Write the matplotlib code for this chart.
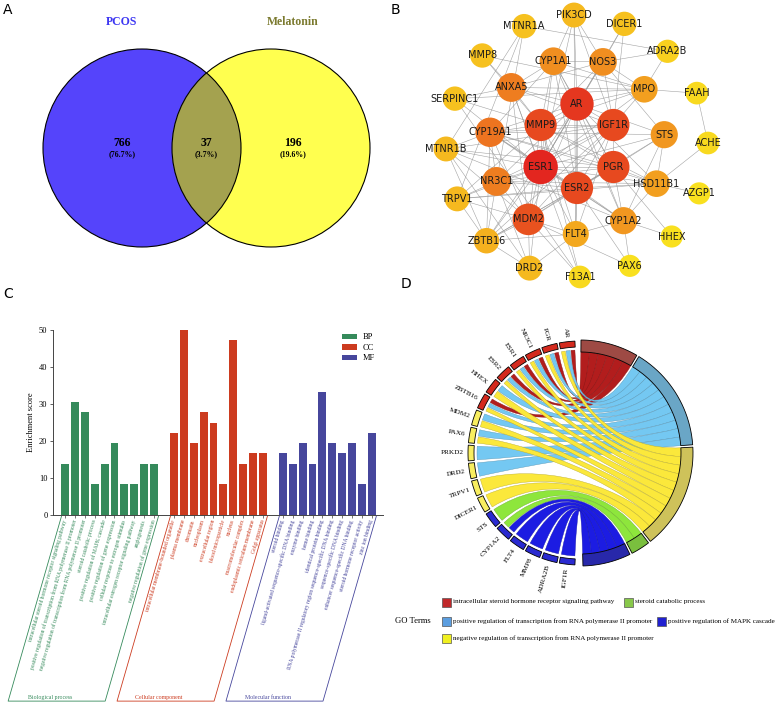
import numpy as np
import matplotlib
matplotlib.use("Agg")
import matplotlib.pyplot as plt
from matplotlib.patches import Circle, Polygon, PathPatch, Rectangle, Patch
from matplotlib.path import Path
from matplotlib.colors import LinearSegmentedColormap, to_rgb
from matplotlib.lines import Line2D

# ======================= DATA =======================
# Panel A : Venn
venn_names = ["PCOS", "Melatonin"]
venn_counts = [766, 37, 196]          # PCOS only, shared, Melatonin only

# Panel B : PPI network (concentric rings by degree)
net_inner = ["AR", "IGF1R", "PGR", "ESR2", "ESR1", "MMP9"]
net_middle = ["ANXA5", "CYP1A1", "NOS3", "MPO", "STS", "HSD11B1", "CYP1A2",
              "FLT4", "MDM2", "NR3C1", "CYP19A1"]
net_outer = ["PIK3CD", "DICER1", "ADRA2B", "FAAH", "ACHE", "AZGP1", "HHEX", "PAX6",
             "F13A1", "DRD2", "ZBTB16", "TRPV1", "MTNR1B", "SERPINC1", "MMP8", "MTNR1A"]
net_degree = {"ESR1": 24, "AR": 22, "MMP9": 20, "IGF1R": 20, "PGR": 20, "ESR2": 20,
              "MDM2": 19, "CYP19A1": 15, "ANXA5": 14, "NR3C1": 14, "CYP1A1": 12,
              "NOS3": 12, "STS": 11, "CYP1A2": 11, "MPO": 10, "HSD11B1": 10, "FLT4": 9,
              "ZBTB16": 8, "PIK3CD": 7, "TRPV1": 7, "MTNR1B": 7, "DRD2": 7, "MTNR1A": 6,
              "MMP8": 6, "DICER1": 6, "SERPINC1": 6, "ADRA2B": 4, "FAAH": 3, "ACHE": 3,
              "F13A1": 3, "AZGP1": 2, "HHEX": 2, "PAX6": 2}
net_edges_text = """
AR-IGF1R AR-PGR AR-ESR2 AR-ESR1 AR-MMP9 IGF1R-PGR IGF1R-ESR2 IGF1R-ESR1 IGF1R-MMP9
PGR-ESR2 PGR-ESR1 PGR-MMP9 ESR2-ESR1 ESR2-MMP9 ESR1-MMP9
ESR1-MDM2 ESR1-NR3C1 ESR1-CYP19A1 ESR1-ANXA5 ESR1-CYP1A1 ESR1-NOS3 ESR1-STS ESR1-HSD11B1
ESR1-CYP1A2 ESR1-FLT4 ESR1-ZBTB16 ESR1-MTNR1B ESR1-TRPV1 ESR1-DRD2 ESR1-MPO ESR1-SERPINC1
ESR1-DICER1 ESR1-PIK3CD
AR-MDM2 AR-NR3C1 AR-CYP19A1 AR-ANXA5 AR-CYP1A1 AR-NOS3 AR-STS AR-HSD11B1 AR-CYP1A2
AR-ZBTB16 AR-PIK3CD AR-FLT4 AR-MPO
MMP9-MDM2 MMP9-ANXA5 MMP9-NOS3 MMP9-MPO MMP9-CYP19A1 MMP9-FLT4 MMP9-MMP8 MMP9-SERPINC1
MMP9-CYP1A1 MMP9-F13A1 MMP9-TRPV1 MMP9-HSD11B1
IGF1R-MDM2 IGF1R-NOS3 IGF1R-MPO IGF1R-FLT4 IGF1R-PIK3CD IGF1R-CYP19A1 IGF1R-ANXA5
IGF1R-DICER1 IGF1R-ZBTB16 IGF1R-NR3C1 IGF1R-MTNR1B
PGR-MDM2 PGR-NR3C1 PGR-CYP19A1 PGR-STS PGR-HSD11B1 PGR-ZBTB16 PGR-CYP1A1 PGR-HHEX
PGR-CYP1A2 PGR-MTNR1B
ESR2-MDM2 ESR2-NR3C1 ESR2-CYP19A1 ESR2-CYP1A1 ESR2-STS ESR2-HSD11B1 ESR2-CYP1A2 ESR2-FLT4
ESR2-TRPV1 ESR2-PAX6 ESR2-ZBTB16
MDM2-NR3C1 MDM2-CYP19A1 MDM2-ZBTB16 MDM2-FLT4 MDM2-F13A1 MDM2-DRD2 MDM2-TRPV1 MDM2-ANXA5
MDM2-MTNR1B MDM2-PAX6
CYP19A1-CYP1A1 CYP19A1-STS CYP19A1-HSD11B1 CYP19A1-CYP1A2 CYP19A1-NR3C1 CYP19A1-MTNR1B
CYP19A1-ZBTB16
NR3C1-HSD11B1 NR3C1-ZBTB16 NR3C1-TRPV1 NR3C1-DRD2 NR3C1-MTNR1A
ANXA5-MMP8 ANXA5-SERPINC1 ANXA5-MPO ANXA5-NOS3 ANXA5-F13A1 ANXA5-CYP1A1
CYP1A1-CYP1A2 CYP1A1-NOS3 CYP1A1-MPO CYP1A1-PIK3CD
NOS3-MPO NOS3-PIK3CD NOS3-DICER1 NOS3-STS NOS3-ADRA2B
MPO-ADRA2B MPO-MMP8 MPO-SERPINC1 MPO-FAAH
STS-HSD11B1 STS-CYP1A2 HSD11B1-CYP1A2 HSD11B1-AZGP1 HSD11B1-ACHE HSD11B1-TRPV1
CYP1A2-HHEX CYP1A2-FLT4 CYP1A2-PAX6 CYP1A2-MTNR1B FLT4-PIK3CD FLT4-DRD2 FLT4-ZBTB16
MTNR1A-ADRA2B MTNR1A-MTNR1B MTNR1A-TRPV1 MTNR1B-DRD2 MTNR1B-ZBTB16 ACHE-FAAH
SERPINC1-F13A1 TRPV1-ZBTB16 DRD2-ZBTB16
"""
net_edges = [tuple(e.split("-")) for e in net_edges_text.split()]

# Panel C : GO enrichment
bp_terms = ["intracellular steroid hormone receptor signaling pathway",
            "positive regulation of transcription from RNA polymerase II promoter",
            "negative regulation of transcription from RNA polymerase II promoter",
            "steroid catabolic process",
            "positive regulation of MAPK cascade",
            "positive regulation of gene expression",
            "cellular response to estrogen stimulus",
            "intracellular estrogen receptor signaling pathway",
            "angiogenesis",
            "negative regulation of gene expression"]
bp_scores = [13.9, 30.6, 27.8, 8.3, 13.9, 19.4, 8.3, 8.3, 13.9, 13.9]
cc_terms = ["intracellular membrane-bounded organelle", "plasma membrane", "chromatin",
            "nucleoplasm", "extracellular region", "blood microparticle", "nucleus",
            "macromolecular complex", "endoplasmic reticulum membrane", "Golgi apparatus"]
cc_scores = [22.2, 50.0, 19.4, 27.8, 25.0, 8.3, 47.2, 13.9, 16.7, 16.7]
mf_terms = ["steroid binding", "ligand-activated sequence-specific DNA binding",
            "enzyme binding", "heme binding", "identical protein binding",
            "RNA polymerase II regulatory region sequence-specific DNA binding",
            "sequence-specific DNA binding", "enhancer sequence-specific DNA binding",
            "steroid hormone receptor activity", "zinc ion binding"]
mf_scores = [16.7, 13.9, 19.4, 13.9, 33.3, 19.4, 16.7, 19.4, 8.3, 22.2]
group_names = ["Biological process", "Cellular component", "Molecular function"]
group_short = ["BP", "CC", "MF"]

# Panel D : GO chord
go_terms = ["intracellular steroid hormone receptor signaling pathway",
            "positive regulation of transcription from RNA polymerase II promoter",
            "negative regulation of transcription from RNA polymerase II promoter",
            "steroid catabolic process",
            "positive regulation of MAPK cascade"]
chord_genes = ["AR", "PGR", "NR3C1", "ESR1", "ESR2", "HHEX", "ZBTB16", "MDM2", "PAX6",
               "PRKD2", "DRD2", "TRPV1", "DICER1", "STS", "CYP1A2", "FLT4", "MMP8",
               "ADRA2B", "IGF1R"]
chord_gene_level = ["high"] * 7 + ["mid"] * 6 + ["low"] * 6
chord_links = {"AR": [0, 1, 2], "PGR": [0, 1, 2], "NR3C1": [0, 1, 2], "ESR1": [0, 1, 2],
               "ESR2": [0, 1, 2], "HHEX": [1, 2], "ZBTB16": [0, 1, 2], "MDM2": [1, 2],
               "PAX6": [1, 2], "PRKD2": [1], "DRD2": [1], "TRPV1": [2], "DICER1": [2],
               "STS": [3], "CYP1A2": [3, 4], "FLT4": [4], "MMP8": [4], "ADRA2B": [4],
               "IGF1R": [4]}

# ======================= STYLE =======================
W, H = 778.0, 704.0
SERIF = "Liberation Serif"
SANS = "DejaVu Sans"
fig = plt.figure(figsize=(W / 100, H / 100), dpi=100)
fig.patch.set_facecolor("white")


def px_axes(x0, y0, x1, y1, z=1):
    ax = fig.add_axes([x0 / W, 1 - y1 / H, (x1 - x0) / W, (y1 - y0) / H], zorder=z)
    ax.set_xlim(x0, x1)
    ax.set_ylim(y1, y0)
    ax.axis("off")
    return ax


def panel_label(x, y, s):
    fig.text(x / W, 1 - y / H, s, fontsize=10, family=SANS, ha="left", va="top")


# ======================= A : Venn =======================
axA = px_axes(0, 0, 389, 290)
vr = 99
cL, cR = (142, 148), (271, 148)
axA.add_patch(Circle(cL, vr, fc="#5544fb", ec="none"))
axA.add_patch(Circle(cR, vr, fc="#ffff4f", ec="none"))
inter = Circle(cL, vr, fc="#a4a24f", ec="none")
axA.add_patch(inter)
inter.set_clip_path(Circle(cR, vr, transform=axA.transData))
for c in (cL, cR):
    axA.add_patch(Circle(c, vr, fc="none", ec="black", lw=0.8))
total = sum(venn_counts)
axA.text(cL[0] - 20, 22, venn_names[0], color="#3d37f2", fontsize=8.5, family=SERIF,
         weight="bold", ha="center", va="center")
axA.text(cR[0] + 22, 22, venn_names[1], color="#7b7a2f", fontsize=8.5, family=SERIF,
         weight="bold", ha="center", va="center")
venn_x = [cL[0] - 20, (cL[0] + cR[0]) / 2, cR[0] + 22]
for x, n in zip(venn_x, venn_counts):
    axA.text(x, 143, f"{n}", fontsize=8.5, family=SERIF, weight="bold",
             ha="center", va="center")
    axA.text(x, 154, f"({100 * n / total:.1f}%)", fontsize=5.6, family=SERIF,
             weight="bold", ha="center", va="center")
panel_label(3, 3, "A")

# ======================= B : network =======================
axB = px_axes(389, 0, 778, 290)
ncx, ncy = 577, 146
pos = {}
for names, rad, a0 in ((net_inner, 42, 90.0), (net_middle, 88, 138.3), (net_outer, 131, 91.3)):
    step = 360.0 / len(names)
    for i, nm in enumerate(names):
        t = np.radians(a0 - i * step)
        pos[nm] = (ncx + rad * np.cos(t), ncy - rad * np.sin(t))
for a, b in net_edges:
    axB.add_line(Line2D([pos[a][0], pos[b][0]], [pos[a][1], pos[b][1]],
                        color="#999999", lw=0.4, alpha=0.9, zorder=1))
ncmap = LinearSegmentedColormap.from_list(
    "deg", ["#f9e01f", "#f5b51f", "#ef8520", "#e9561f", "#e3261f"])
dmin, dmax = min(net_degree.values()), max(net_degree.values())
for nm, (x, y) in pos.items():
    d = net_degree[nm]
    col = ncmap((d - dmin) / (dmax - dmin))
    axB.add_patch(Circle((x, y), 10.5 + 0.28 * d, fc=col, ec="none", zorder=2))
    axB.text(x, y, nm, fontsize=7, family=SANS, color="#1a1a1a",
             ha="center", va="center", zorder=3)
panel_label(391, 3, "B")

# ======================= C : bars =======================
axC = fig.add_axes([53 / W, 1 - 515 / H, 330 / W, 185 / H])
bar_cols = ["#358a5b", "#cc3b1f", "#46469c"]
all_terms = [bp_terms, cc_terms, mf_terms]
all_scores = [bp_scores, cc_scores, mf_scores]
positions, labels, lab_cols = [], [], []
start = 0
group_pos = []
for terms, scores, col, sh in zip(all_terms, all_scores, bar_cols, group_short):
    p = start + np.arange(len(scores))
    axC.bar(p, scores, width=0.8, color=col, label=sh, zorder=2)
    group_pos.append(p)
    positions += list(p)
    labels += terms
    lab_cols += [col] * len(terms)
    start += len(scores) + 1
axC.set_xlim(-1.21, 32.12)
axC.set_ylim(0, 50)
axC.set_yticks([0, 10, 20, 30, 40, 50])
for s in ("top", "right"):
    axC.spines[s].set_visible(False)
for s in ("left", "bottom"):
    axC.spines[s].set_linewidth(0.7)
    axC.spines[s].set_color("#444444")
axC.tick_params(axis="y", length=2.5, width=0.6, labelsize=6, pad=1.5, color="#444444")
for t in axC.get_yticklabels():
    t.set_family(SERIF)
ROT = 74
axC.set_xticks(positions)
axC.set_xticklabels(labels, rotation=ROT, ha="right", va="center",
                    rotation_mode="anchor", fontsize=4.0, family=SERIF)
for t, c in zip(axC.get_xticklabels(), lab_cols):
    t.set_color(c)
axC.tick_params(axis="x", length=2.0, width=0.5, pad=1.5, color="#444444")
axC.set_ylabel("Enrichment score", fontsize=6, family=SERIF, labelpad=3)
leg = axC.legend(loc="upper right", bbox_to_anchor=(0.985, 1.0), frameon=False,
                 prop={"family": SERIF, "size": 6}, handlelength=1.8, handleheight=0.6,
                 handletextpad=0.7, labelspacing=0.3, borderaxespad=0)
# slanted group boxes
px_per_x = 330 / (32.12 + 1.21)
px_per_y = 185 / 50
y_bot = -50.3
shift = (abs(y_bot) * px_per_y / np.tan(np.radians(ROT))) / px_per_x
for p, col, gname in zip(group_pos, bar_cols, group_names):
    xl, xr = p[0] - 0.35, p[-1] + 0.45
    xs = [xl, xl - shift, xr - shift, xr]
    ys = [-0.3, y_bot, y_bot, -0.3]
    axC.add_line(Line2D(xs, ys, color=col, lw=0.6, clip_on=False))
    axC.text(xl - shift + 4.2, y_bot + 0.4, gname, color=col, fontsize=4.2,
             family=SERIF, ha="center", va="bottom", clip_on=False)
panel_label(3, 287, "C")

# ======================= D : chord =======================
axD = px_axes(389, 290, 778, 704)
ccx, ccy = 580, 453
ribbon_cols = ["#b21d1d", "#74c8f2", "#fbe83b", "#8ee63c", "#1c1ce2"]
term_ring_cols = ["#9e4a44", "#6aa6c6", "#cec25a", "#7abf3e", "#2828aa"]
legend_cols = ["#c0282a", "#5b9ee0", "#f0f020", "#88c84a", "#2020d0"]
gene_ring_cols = {"high": "#d42a1e", "mid": "#f8ee60", "low": "#2a2ad0"}


def pt(r, a):
    t = np.radians(a)
    return np.array([ccx + r * np.cos(t), ccy - r * np.sin(t)])


def arc(r, a0, a1, n=24):
    return [pt(r, a) for a in np.linspace(a0, a1, n)]


def ring_poly(r0, r1, a0, a1, fc):
    verts = arc(r1, a0, a1) + arc(r0, a1, a0)
    return Polygon(verts, closed=True, fc=fc, ec="black", lw=0.6, zorder=5)


# gene side
g0, g1 = 92.0, 268.0
gseg = (g1 - g0) / len(chord_genes)
gene_sub = {}
for i, g in enumerate(chord_genes):
    a0 = g0 + i * gseg + 0.6
    a1 = g0 + (i + 1) * gseg - 0.6
    axD.add_patch(ring_poly(106, 112, a0, a1, gene_ring_cols[chord_gene_level[i]]))
    am = (a0 + a1) / 2
    x, y = pt(116, am)
    axD.text(x, y, g, rotation=am - 180, ha="right", va="center",
             rotation_mode="anchor", fontsize=5.2, family=SERIF)
    terms = chord_links[g]
    w = (a1 - a0) / len(terms)
    for j, k in enumerate(terms):
        gene_sub[(g, k)] = (a0 + j * w + 0.25, a0 + (j + 1) * w - 0.25)

# GO side
counts = [sum(k in chord_links[g] for g in chord_genes) for k in range(len(go_terms))]
gap = 1.2
top_a, bot_a = 89.5, -88.5
unit = ((top_a - bot_a) - gap * (len(go_terms) - 1)) / sum(counts)
term_sub = {}
a = top_a
for k in range(len(go_terms)):
    span = counts[k] * unit
    axD.add_patch(ring_poly(101, 113, a - span, a, term_ring_cols[k]))
    members = [g for g in chord_genes if k in chord_links[g]]
    for j, g in enumerate(members):
        term_sub[(g, k)] = (a - (j + 1) * unit, a - j * unit)
    a -= span + gap

# ribbons (cubic Bezier, control points pulled toward the centre)
CTRL = 0.42
ctr = np.array([ccx, ccy])


def ctrl_pt(p):
    return ctr + CTRL * (p - ctr)


for k in range(len(go_terms)):
    dark = tuple(0.75 * np.array(to_rgb(ribbon_cols[k])))
    for g in chord_genes:
        if k not in chord_links[g]:
            continue
        alo, ahi = gene_sub[(g, k)]
        blo, bhi = term_sub[(g, k)]
        va = arc(103, alo, ahi, 12)
        vb = arc(101, blo, bhi, 12)
        verts = (va + [ctrl_pt(va[-1]), ctrl_pt(vb[0]), vb[0]] + vb[1:] +
                 [ctrl_pt(vb[-1]), ctrl_pt(va[0]), va[0], va[0]])
        codes = ([Path.MOVETO] + [Path.LINETO] * (len(va) - 1) +
                 [Path.CURVE4] * 3 + [Path.LINETO] * (len(vb) - 1) +
                 [Path.CURVE4] * 3 + [Path.CLOSEPOLY])
        axD.add_patch(PathPatch(Path(verts, codes), fc=ribbon_cols[k], ec=dark,
                                lw=0.3, zorder=3))

# legend
axD.text(431, 621, "GO Terms", fontsize=6.2, family=SERIF, ha="right", va="center")
leg_rows = [[(0, 442), (3, 624)], [(1, 442), (4, 657)], [(2, 442)]]
for row_y, row in zip([602, 621, 638], leg_rows):
    for k, x in row:
        axD.add_patch(Rectangle((x, row_y - 4.5), 9, 9, fc=legend_cols[k], ec="#555555",
                                lw=0.5, zorder=5))
        axD.text(x + 11, row_y, go_terms[k], fontsize=5.1, family=SERIF,
                 ha="left", va="center")
panel_label(401, 277, "D")

fig.savefig("out.png", dpi=100, facecolor="white")
